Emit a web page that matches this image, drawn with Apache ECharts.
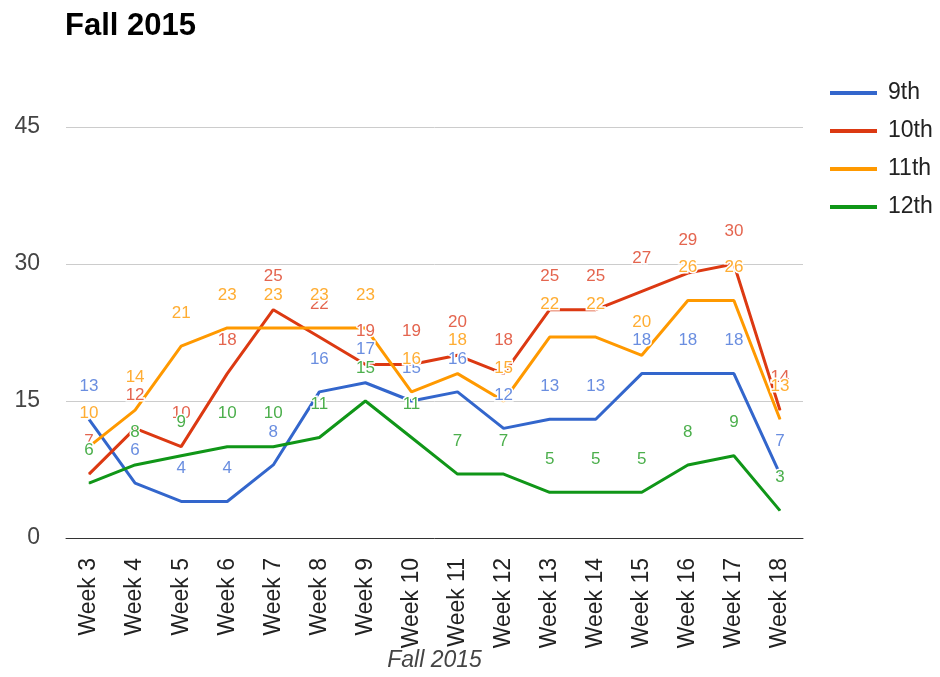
<!DOCTYPE html>
<html>
<head>
<meta charset="utf-8">
<script src="https://cdn.jsdelivr.net/npm/echarts@6/dist/echarts.min.js"></script>
<style>
html,body{margin:0;padding:0;background:#fff;overflow:hidden;}
#chart{width:940px;height:677px;}
</style>
</head>
<body>
<div id="chart"></div>
<script>
var weeks = ["Week 3","Week 4","Week 5","Week 6","Week 7","Week 8","Week 9","Week 10","Week 11","Week 12","Week 13","Week 14","Week 15","Week 16","Week 17","Week 18"];
var grade9  = [13, 6, 4, 4, 8, 16, 17, 15, 16, 12, 13, 13, 18, 18, 18, 7];
var grade10 = [7, 12, 10, 18, 25, 22, 19, 19, 20, 18, 25, 25, 27, 29, 30, 14];
var grade11 = [10, 14, 21, 23, 23, 23, 23, 16, 18, 15, 22, 22, 20, 26, 26, 13];
var grade12 = [6, 8, 9, 10, 10, 11, 15, 11, 7, 7, 5, 5, 5, 8, 9, 3];
var seriesNames = ["9th","10th","11th","12th"];
var yTicks = [0, 15, 30, 45];

var lineColors = ["#3366cc","#dc3912","#ff9900","#109618"];
var labelColors = ["#6a8ee0","#e4654f","#ffad33","#4caf4c"];
var allData = [grade9, grade10, grade11, grade12];

var chart = echarts.init(document.getElementById('chart'), null, {renderer:'canvas', width: 940, height: 677});
var series = allData.map(function(d, i){
  return {
    name: seriesNames[i],
    type: 'line',
    data: d,
    symbol: 'circle',
    symbolSize: 1,
    showSymbol: true,
    lineStyle: {width: 3, color: lineColors[i]},
    itemStyle: {color: lineColors[i]},
    emphasis: {disabled: true},
    label: {
      show: true,
      position: 'top',
      distance: 24,
      color: labelColors[i],
      fontFamily: 'Liberation Sans, Arial, sans-serif',
      fontSize: 17,
      textBorderColor: '#fff',
      textBorderWidth: 3
    },
    animation: false
  };
});

chart.setOption({
  animation: false,
  title: {
    text: 'Fall 2015',
    left: 60, top: 6,
    textStyle: {fontFamily: 'Liberation Sans, Arial, sans-serif', fontSize: 31, fontWeight: 'bold', color: '#000'}
  },
  legend: {
    orient: 'vertical',
    left: 825, top: 75,
    icon: 'rect',
    itemWidth: 47, itemHeight: 4,
    itemGap: 12,
    data: seriesNames,
    textStyle: {fontFamily: 'Liberation Sans, Arial, sans-serif', fontSize: 23, color: '#222', lineHeight: 26, padding: [0,0,0,6]}
  },
  grid: {left: 66, width: 737, top: 127, height: 411, containLabel: false, outerBoundsMode: 'none'},
  xAxis: {
    type: 'category',
    data: weeks,
    boundaryGap: true,
    name: 'Fall 2015',
    nameLocation: 'middle',
    nameGap: 111,
    nameMoveOverlap: false,
    nameTextStyle: {fontFamily: 'Liberation Sans, Arial, sans-serif', fontSize: 23, fontStyle: 'italic', color: '#444'},
    axisLine: {lineStyle: {color: '#333', width: 1}},
    axisTick: {show: false},
    axisLabel: {rotate: 90, interval: 0, margin: 20, fontFamily: 'Liberation Sans, Arial, sans-serif', fontSize: 23, color: '#222'}
  },
  yAxis: {
    type: 'value',
    min: yTicks[0], max: yTicks[yTicks.length-1], interval: yTicks[1]-yTicks[0],
    axisLine: {show: false},
    axisTick: {show: false},
    splitLine: {lineStyle: {color: '#cccccc', width: 1}},
    axisLabel: {margin: 26, fontFamily: 'Liberation Sans, Arial, sans-serif', fontSize: 23, color: '#444'}
  },
  series: series
});
</script>
</body>
</html>
